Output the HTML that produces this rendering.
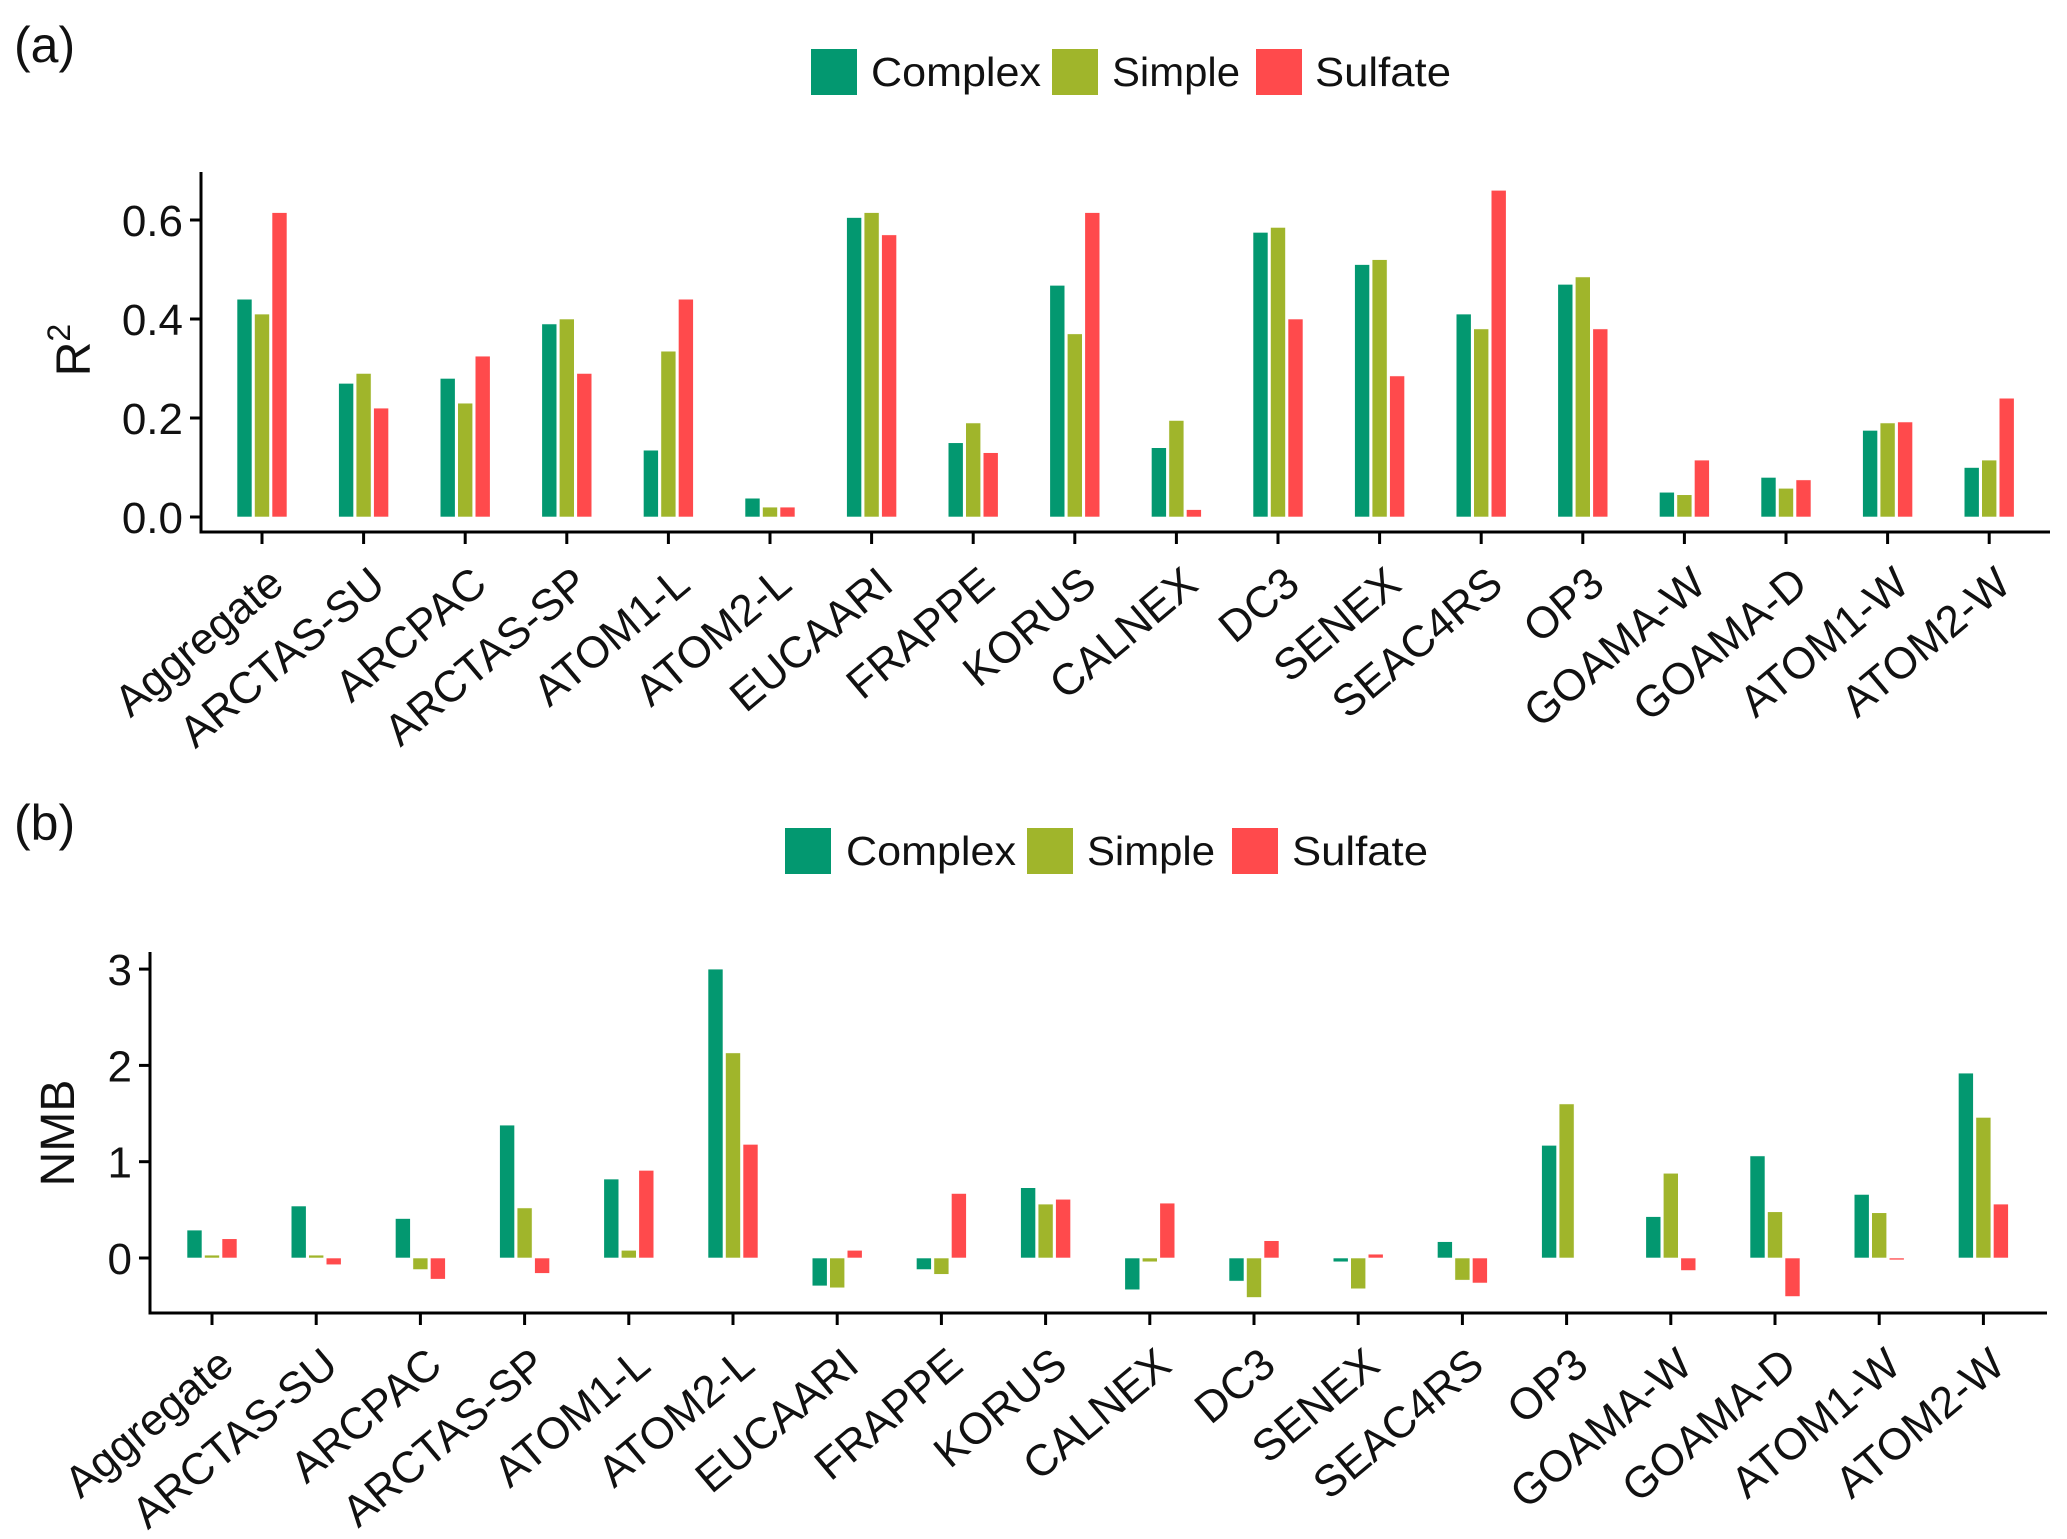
<!DOCTYPE html>
<html><head><meta charset="utf-8"><style>
html,body{margin:0;padding:0;background:#fff;}
svg{display:block;font-family:"Liberation Sans",sans-serif;}
</style></head><body>
<svg id="fig" width="2067" height="1539" viewBox="0 0 2067 1539" xmlns="http://www.w3.org/2000/svg">
<rect width="2067" height="1539" fill="#fff"/>
</svg>
<script>
const categories=["Aggregate","ARCTAS-SU","ARCPAC","ARCTAS-SP","ATOM1-L","ATOM2-L","EUCAARI","FRAPPE","KORUS","CALNEX","DC3","SENEX","SEAC4RS","OP3","GOAMA-W","GOAMA-D","ATOM1-W","ATOM2-W"];
const seriesNames=["Complex","Simple","Sulfate"];
const r2Complex=[0.44,0.27,0.28,0.39,0.135,0.038,0.605,0.15,0.468,0.14,0.575,0.51,0.41,0.47,0.05,0.08,0.175,0.10];
const r2Simple=[0.41,0.29,0.23,0.40,0.335,0.02,0.615,0.19,0.37,0.195,0.585,0.52,0.38,0.485,0.045,0.058,0.19,0.115];
const r2Sulfate=[0.615,0.22,0.325,0.29,0.44,0.02,0.57,0.13,0.615,0.015,0.40,0.285,0.66,0.38,0.115,0.075,0.192,0.24];
const nmbComplex=[0.29,0.54,0.41,1.38,0.82,3.0,-0.29,-0.12,0.73,-0.33,-0.24,-0.04,0.17,1.17,0.43,1.06,0.66,1.92];
const nmbSimple=[0.03,0.03,-0.12,0.52,0.08,2.13,-0.31,-0.17,0.56,-0.04,-0.41,-0.32,-0.23,1.60,0.88,0.48,0.47,1.46];
const nmbSulfate=[0.20,-0.07,-0.22,-0.16,0.91,1.18,0.08,0.67,0.61,0.57,0.18,0.04,-0.26,0,-0.13,-0.40,-0.02,0.56];
const r2Ticks=[0,0.2,0.4,0.6];
const r2TickLabels=["0.0","0.2","0.4","0.6"];
const nmbTicks=[0,1,2,3];
const nmbTickLabels=["0","1","2","3"];
const colors=["#039870","#a0b52b","#ff4a4c"];
const NS="http://www.w3.org/2000/svg";
const svg=document.getElementById('fig');
function mk(tag,attrs,parent){const e=document.createElementNS(NS,tag);for(const k in attrs)e.setAttribute(k,attrs[k]);(parent||svg).appendChild(e);return e;}

function panel(cfg){
  const g=mk('g',{});
  
  
  const y=v=>cfg.y0-(v-0)*cfg.pxPerUnit;
  const x=i=>cfg.x0+i*cfg.dx;
  const pl=mk('text',{x:cfg.labelX,y:cfg.labelY,'font-size':50,fill:'#111'},g);
  pl.textContent=cfg.panelLabel;
  
  
  const lx=cfg.legendBoxes;
  for(let s=0;s<3;s++){
    const lg=mk('g',{},g);
    
    
    mk('rect',{x:lx[s],y:cfg.legendY,width:46,height:46,fill:colors[s]},lg);
    const t=mk('text',{x:cfg.legendText[s],y:cfg.legendY+37,'font-size':41,fill:'#111',textLength:cfg.legendTextLen[s],lengthAdjust:'spacingAndGlyphs'},lg);
    t.textContent=seriesNames[s];
  }
  const data=cfg.data;
  for(let s=0;s<3;s++){
    const bg=mk('g',{},g);
    
    
    for(let i=0;i<categories.length;i++){
      const v=data[s][i];
      if(v===0)continue;
      const cx=x(i)+(s-1)*17.5;
      const y1=y(Math.max(v,0)),y2=y(Math.min(v,0));
      const r=mk('rect',{x:cx-7.5,y:y1,width:15,height:Math.max(y2-y1,1),fill:colors[s],stroke:'#fff','stroke-width':0.6},bg);
      
      
    }
  }
  const ax=mk('g',{},g);
  
  
  mk('line',{x1:cfg.axisX,y1:cfg.axisTop,x2:cfg.axisX,y2:cfg.axisBottom+1.5,stroke:'#000','stroke-width':3},ax);
  cfg.ticks.forEach((tv,k)=>{
    mk('line',{x1:cfg.axisX-11,y1:y(tv),x2:cfg.axisX,y2:y(tv),stroke:'#000','stroke-width':3},ax);
    const t=mk('text',{x:cfg.axisX-18,y:y(tv)+16,'font-size':44,'text-anchor':'end',fill:'#111'},ax);
    t.textContent=cfg.tickLabels[k];
  });
  const yt=mk('text',{x:0,y:0,'font-size':48,'text-anchor':'middle',fill:'#111',transform:`translate(${cfg.yTitleX},${cfg.yTitleY}) rotate(-90)`},g);
  
  
  if(cfg.sup){yt.textContent='R';const ts=mk('tspan',{dy:-20,'font-size':32},yt);ts.textContent='2';}
  else yt.textContent=cfg.yTitle;
  const xa=mk('g',{},g);
  
  
  mk('line',{x1:cfg.axisX-1.5,y1:cfg.axisBottom,x2:cfg.axisRight,y2:cfg.axisBottom,stroke:'#000','stroke-width':3},xa);
  categories.forEach((c,i)=>{
    mk('line',{x1:x(i),y1:cfg.axisBottom,x2:x(i),y2:cfg.axisBottom+12,stroke:'#000','stroke-width':3},xa);
    const t=mk('text',{x:0,y:0,'font-size':44,'text-anchor':'end',fill:'#111',transform:`translate(${x(i)+24},${cfg.axisBottom+56}) rotate(-40)`},xa);
    t.textContent=c;
    
    
  });
}
panel({name:'panel-a-r2',panelLabel:'(a)',labelX:14,labelY:62,
  legendBoxes:[811,1052,1256],legendText:[871,1112,1315],legendTextLen:[170,128,136],legendY:49,
  data:[r2Complex,r2Simple,r2Sulfate],x0:262,dx:101.6,y0:517,pxPerUnit:495,
  axisX:201,axisTop:172,axisBottom:532,axisRight:2050,ticks:r2Ticks,tickLabels:r2TickLabels,
  yTitleX:90,yTitleY:350,sup:true});
panel({name:'panel-b-nmb',panelLabel:'(b)',labelX:14,labelY:840,
  legendBoxes:[785,1027,1232],legendText:[846,1087,1292],legendTextLen:[170,128,136],legendY:828,
  data:[nmbComplex,nmbSimple,nmbSulfate],x0:212,dx:104.2,y0:1258,pxPerUnit:96.3,
  axisX:150,axisTop:952,axisBottom:1313,axisRight:2047,ticks:nmbTicks,tickLabels:nmbTickLabels,
  yTitleX:74,yTitleY:1133,yTitle:'NMB'});
</script>
</body></html>
